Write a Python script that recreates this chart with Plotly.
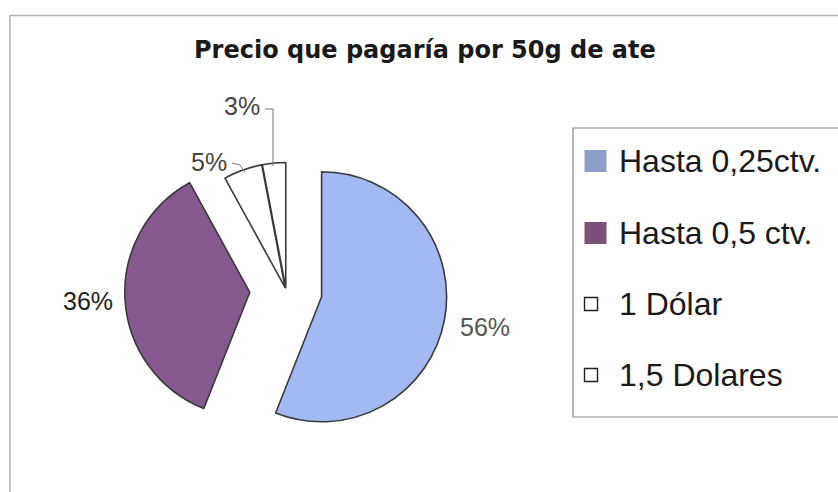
import plotly.graph_objects as go

# Survey answers: price willing to pay for 50 g of ate
categories = ["Hasta 0,25ctv.", "Hasta 0,5 ctv.", "1 Dólar", "1,5 Dolares"]
shares = [56, 36, 5, 3]
slice_colors = ["#A3B9F4", "#87578F", "#FFFFFF", "#FFFFFF"]
key_colors = ["#8C9FC8", "#7B4F77", "#FFFFFF", "#FFFFFF"]
slice_pull = [0.29, 0.29, 0.02, 0.02]
title_text = "Precio que pagaría por 50g de ate"

W, H = 838, 492


def px(x):
    return x / W


def py(y):
    return 1 - y / H


total = sum(shares)
pct = [f"{round(v / total * 100)}%" for v in shares]

# pie placement (pixels): centre and outer radius before pull
cx, cy, r = 286, 290, 125
half = r * (1 + max(slice_pull))

fig = go.Figure(
    go.Pie(
        labels=categories,
        values=shares,
        sort=False,
        direction="clockwise",
        rotation=0,
        pull=slice_pull,
        marker=dict(colors=slice_colors, line=dict(color="#3A3A3A", width=1.6)),
        textinfo="none",
        hoverinfo="label+percent",
        showlegend=False,
        domain=dict(x=[px(cx - half), px(cx + half)], y=[py(cy + half), py(cy - half)]),
    )
)

shapes = []
annotations = []

# chart frame
shapes.append(dict(type="rect", xref="paper", yref="paper",
                   x0=px(10), x1=px(860), y0=py(15.5), y1=py(520),
                   line=dict(color="#B4B4B4", width=1.5)))

# percentage labels
label_pos = [(485, 327, "#555555"), (88, 301, "#222222"), (209, 162, "#444444"), (242, 106, "#444444")]
for (x, y, col), t in zip(label_pos, pct):
    annotations.append(dict(x=px(x), y=py(y), xref="paper", yref="paper", text=t,
                            showarrow=False, xanchor="center", yanchor="middle",
                            font=dict(family="Arial", size=25, color=col)))

# leader lines for the small slices
leader = dict(color="#777777", width=1)
shapes.append(dict(type="path", xref="paper", yref="paper",
                   path=f"M {px(265)},{py(109)} L {px(273)},{py(109)} L {px(273)},{py(166)}",
                   line=leader))
shapes.append(dict(type="path", xref="paper", yref="paper",
                   path=f"M {px(232)},{py(163)} L {px(240)},{py(165)} L {px(245)},{py(172)}",
                   line=leader))

# legend box
shapes.append(dict(type="rect", xref="paper", yref="paper",
                   x0=px(573), x1=px(860), y0=py(128), y1=py(417),
                   line=dict(color="#8A8A8A", width=1.2)))

row_y = [161, 233, 304, 375]
for name, col, y in zip(categories, key_colors, row_y):
    if col.upper() == "#FFFFFF":
        s = 6.5
        shapes.append(dict(type="rect", xref="paper", yref="paper",
                           x0=px(591 - s), x1=px(591 + s), y0=py(y + s), y1=py(y - s),
                           fillcolor=col, line=dict(color="#222222", width=1.4)))
    else:
        s = 11
        shapes.append(dict(type="rect", xref="paper", yref="paper",
                           x0=px(595.5 - s), x1=px(595.5 + s), y0=py(y + s), y1=py(y - s),
                           fillcolor=col, line=dict(width=0)))
    annotations.append(dict(x=px(617), y=py(y), xref="paper", yref="paper", text=name,
                            showarrow=False, xanchor="left", yanchor="middle",
                            font=dict(family="Arial", size=32, color="#1A1A1A")))

# chart title
annotations.append(dict(x=px(425), y=py(50), xref="paper", yref="paper",
                        text=f"<b>{title_text}</b>", showarrow=False,
                        xanchor="center", yanchor="middle",
                        font=dict(family="DejaVu Sans", size=24, color="#1A1A1A")))

fig.update_layout(
    width=W, height=H,
    margin=dict(l=0, r=0, t=0, b=0),
    paper_bgcolor="white", plot_bgcolor="white",
    shapes=shapes, annotations=annotations,
)

fig.write_html("out.html")
